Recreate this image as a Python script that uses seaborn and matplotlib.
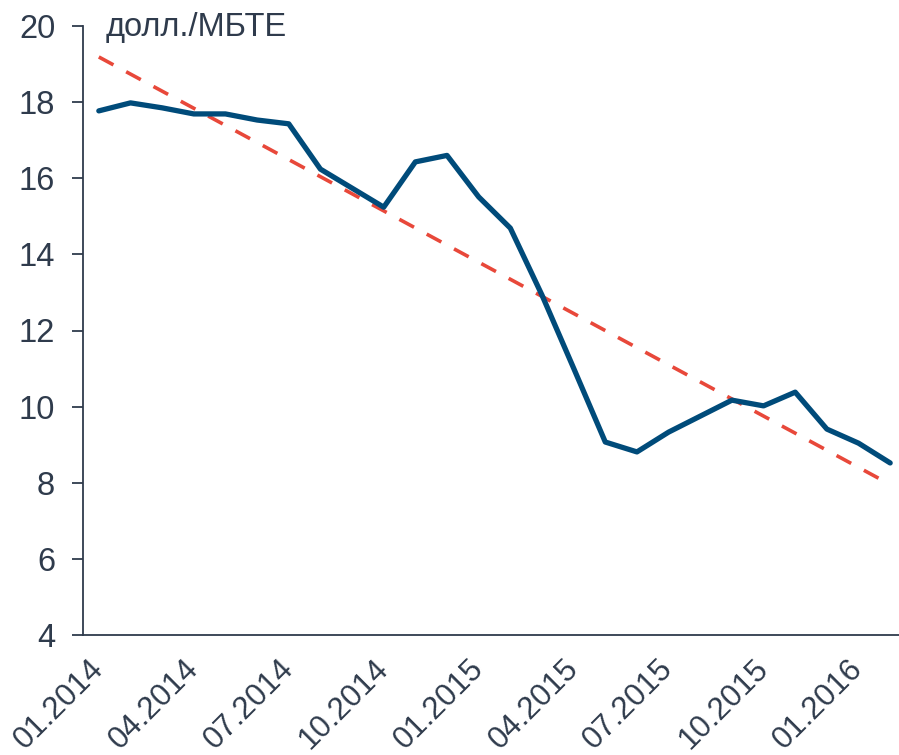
import numpy as np
import pandas as pd
import matplotlib
matplotlib.use("Agg")
import matplotlib.pyplot as plt
import seaborn as sns

# monthly price, 01.2014 - 02.2016
months = ['01.2014', '02.2014', '03.2014', '04.2014', '05.2014', '06.2014',
          '07.2014', '08.2014', '09.2014', '10.2014', '11.2014', '12.2014',
          '01.2015', '02.2015', '03.2015', '04.2015', '05.2015', '06.2015',
          '07.2015', '08.2015', '09.2015', '10.2015', '11.2015', '12.2015',
          '01.2016', '02.2016']
price = [17.77, 17.98, 17.85, 17.69, 17.69, 17.53, 17.43, 16.24, 15.74, 15.24,
         16.43, 16.60, 15.51, 14.69, 12.93, 11.01, 9.07, 8.81, 9.33, 9.75,
         10.17, 10.02, 10.38, 9.41, 9.04, 8.52]
unit_label = 'долл./МБТЕ'
y_ticks = [4, 6, 8, 10, 12, 14, 16, 18, 20]

df = pd.DataFrame({'month': months, 'price': price})
df['idx'] = np.arange(len(df))

# linear trend
slope, intercept = np.polyfit(df['idx'], df['price'], 1)
df['trend'] = intercept + slope * df['idx']

sns.set_style('white')
plt.rcParams['font.family'] = ['Liberation Sans', 'DejaVu Sans']
text_color = '#2f3b4c'
fs = 23.5

fig = plt.figure(figsize=(8.99, 7.55), dpi=100)
ax = fig.add_axes([83 / 899, 1 - 635 / 755, (906 - 83) / 899, 609 / 755])

sns.lineplot(data=df, x='idx', y='trend', ax=ax, color='#e8483a',
             linewidth=2.6, linestyle=(0, (4.6, 4.0)))
sns.lineplot(data=df, x='idx', y='price', ax=ax, color='#004b7a',
             linewidth=3.8)

ax.set_xlim(-0.5, len(df) - 0.5)
ax.set_ylim(4, 20)
ax.set_yticks(y_ticks)
ax.set_xticks(df['idx'][::3])
ax.set_xticklabels(df['month'][::3], rotation=45, ha='right',
                   va='center', rotation_mode='anchor')
ax.tick_params(axis='y', length=8, width=1.3, color=text_color,
               labelsize=fs, labelcolor=text_color, pad=12, left=True)
ax.tick_params(axis='x', length=0, labelsize=22.5, labelcolor=text_color,
               pad=21)
ax.set_xlabel('')
ax.set_ylabel('')

for side in ['top', 'right']:
    ax.spines[side].set_visible(False)
for side in ['left', 'bottom']:
    ax.spines[side].set_color(text_color)
    ax.spines[side].set_linewidth(1.3)

ax.text(0.027, 0.984, unit_label, transform=ax.transAxes, fontsize=fs,
        color=text_color, va='baseline', ha='left')

fig.savefig('out.png', dpi=100)
